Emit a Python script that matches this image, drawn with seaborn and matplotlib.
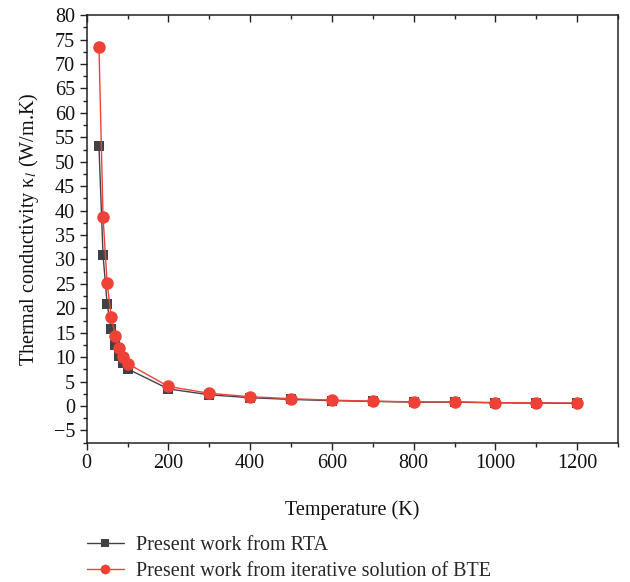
import matplotlib
matplotlib.use("Agg")
import matplotlib.pyplot as plt
import seaborn as sns
import pandas as pd
from matplotlib.ticker import MultipleLocator
from matplotlib.lines import Line2D

temperature = [30, 40, 50, 60, 70, 80, 90, 100, 200, 300, 400, 500, 600, 700, 800, 900, 1000, 1100, 1200]
kappa_rta = [53.2, 30.9, 20.9, 15.7, 12.4, 10.3, 8.8, 7.6, 3.5, 2.3, 1.7, 1.35, 1.1, 0.95, 0.8, 0.8, 0.65, 0.6, 0.55]
kappa_bte = [73.5, 38.7, 25.2, 18.3, 14.4, 11.9, 10.0, 8.7, 4.0, 2.6, 1.9, 1.5, 1.2, 1.0, 0.85, 0.85, 0.7, 0.65, 0.6]
labels = ["Present work from RTA", "Present work from iterative solution of BTE"]

sns.set_theme(style="ticks")
plt.rcParams["font.family"] = ["Liberation Serif", "DejaVu Serif"]
plt.rcParams["mathtext.fontset"] = "stix"

df = pd.DataFrame({
    "T": temperature * 2,
    "k": kappa_rta + kappa_bte,
    "series": [labels[0]] * len(temperature) + [labels[1]] * len(temperature),
})

fig = plt.figure(figsize=(6.3, 5.82), dpi=100)
ax = fig.add_axes([0.1376, 0.2394, 0.981 - 0.1376, 0.974 - 0.2394])

sns.lineplot(data=df, x="T", y="k", hue="series", style="series",
             palette={labels[0]: "#3f4347", labels[1]: "#ef4136"},
             markers={labels[0]: "s", labels[1]: "o"}, dashes=False,
             linewidth=1.0, markersize=8, markeredgewidth=0, ax=ax, legend=False)
for line in ax.lines:
    if line.get_marker() == "o":
        line.set_markersize(9)
        line.set_zorder(3)
    else:
        line.set_markersize(7.5)
        line.set_zorder(2)

ax.set_xlim(0, 1300)
ax.set_ylim(-7.5, 80)
ax.xaxis.set_major_locator(MultipleLocator(200))
ax.xaxis.set_minor_locator(MultipleLocator(100))
ax.yaxis.set_major_locator(MultipleLocator(5))
ax.yaxis.set_minor_locator(MultipleLocator(2.5))
ax.set_xticks([0, 200, 400, 600, 800, 1000, 1200])

for s in ax.spines.values():
    s.set_color("#222222")
    s.set_linewidth(1.1)

ax.tick_params(axis="both", which="major", direction="out", length=5, width=1.0,
               labelsize=14.5, color="#222222", labelcolor="#111111")
ax.tick_params(axis="both", which="minor", direction="out", length=3, width=1.0,
               color="#222222")
ax.tick_params(axis="x", which="both", top=True)
ax.tick_params(axis="y", which="both", right=False)
for t in ax.xaxis.get_major_ticks() + ax.xaxis.get_minor_ticks():
    t.tick2line.set_marker(3)

ax.set_xlabel("Temperature (K)", fontsize=14.5, labelpad=19, color="#111111")
ax.set_ylabel("Thermal conductivity κ$_{l}$ (W/m.K)", fontsize=14.5, labelpad=9, color="#111111")

handles = [
    Line2D([], [], color="#3f4347", marker="s", markersize=6, lw=1.0, markeredgewidth=0),
    Line2D([], [], color="#ef4136", marker="o", markersize=7, lw=1.0, markeredgewidth=0),
]
ax.legend(handles, labels, loc="upper left", bbox_to_anchor=(-0.015, -0.20),
          frameon=False, fontsize=14.5, handlelength=1.85, handletextpad=0.6,
          labelspacing=0.35, borderaxespad=0)

fig.savefig("out.png", dpi=100)
